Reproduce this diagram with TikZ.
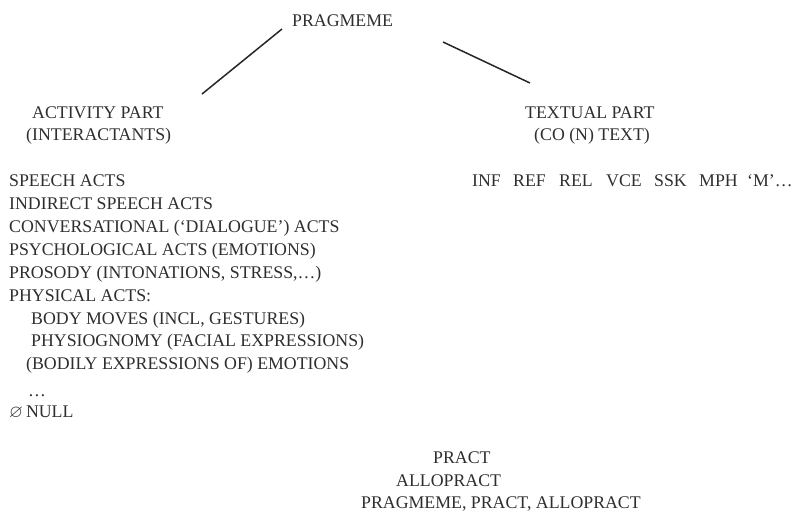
\documentclass[tikz,border=0pt]{standalone}
\usepackage{amssymb}
\usepackage{fontspec}
\setmainfont{Liberation Serif}
\begin{document}
\begin{tikzpicture}[x=1pt,y=-1pt,
  lbl/.style={anchor=base west,inner sep=0pt,text=black!82,font=\fontsize{17.8}{20}\selectfont},
  branch/.style={line width=1.5pt,draw=black!85}]
\useasboundingbox (0,0) rectangle (796,512);
\node[lbl] (prag) at (292,26) {PRAGMEME};
\node[lbl] (act) at (32,118) {ACTIVITY PART};
\node[lbl] (inter) at (26,140) {(INTERACTANTS)};
\node[lbl] (text) at (525,118) {TEXTUAL PART};
\node[lbl] (cotext) at (534,140) {(CO (N) TEXT)};
\coordinate (l1a) at (282,29);
\coordinate (l1b) at (202,94);
\coordinate (l2a) at (443,42);
\coordinate (l2b) at (530,83);
\draw[branch] (l1a) -- (l1b);
\draw[branch] (l2a) -- (l2b);
\node[lbl] (s1) at (9,186) {SPEECH ACTS};
\node[lbl] (s2) at (9,209) {INDIRECT SPEECH ACTS};
\node[lbl] (s3) at (9,232.2) {CONVERSATIONAL (‘DIALOGUE’) ACTS};
\node[lbl] (s4) at (9,255.2) {PSYCHOLOGICAL ACTS (EMOTIONS)};
\node[lbl] (s5) at (9,278.4) {PROSODY (INTONATIONS, STRESS,…)};
\node[lbl] (s6) at (9,301) {PHYSICAL ACTS:};
\node[lbl] (s7) at (31,324) {BODY MOVES (INCL, GESTURES)};
\node[lbl] (s8) at (31,346.6) {PHYSIOGNOMY (FACIAL EXPRESSIONS)};
\node[lbl] (s9) at (26,369.2) {(BODILY EXPRESSIONS OF) EMOTIONS};
\node[lbl] (s10) at (28,396) {…};
\node[lbl] (s11) at (9,417) {$\varnothing$\,NULL};
\node[lbl] (inf) at (472,186) {INF};
\node[lbl] (ref) at (513,186) {REF};
\node[lbl] (rel) at (559,186) {REL};
\node[lbl] (vce) at (606,186) {VCE};
\node[lbl] (ssk) at (654,186) {SSK};
\node[lbl] (mph) at (699,186) {MPH};
\node[lbl] (m) at (747,186) {‘M’…};
\node[lbl] (pract) at (433,463) {PRACT};
\node[lbl] (allo) at (396,486) {ALLOPRACT};
\node[lbl] (all) at (361,508) {PRAGMEME, PRACT, ALLOPRACT};
\end{tikzpicture}
\end{document}
